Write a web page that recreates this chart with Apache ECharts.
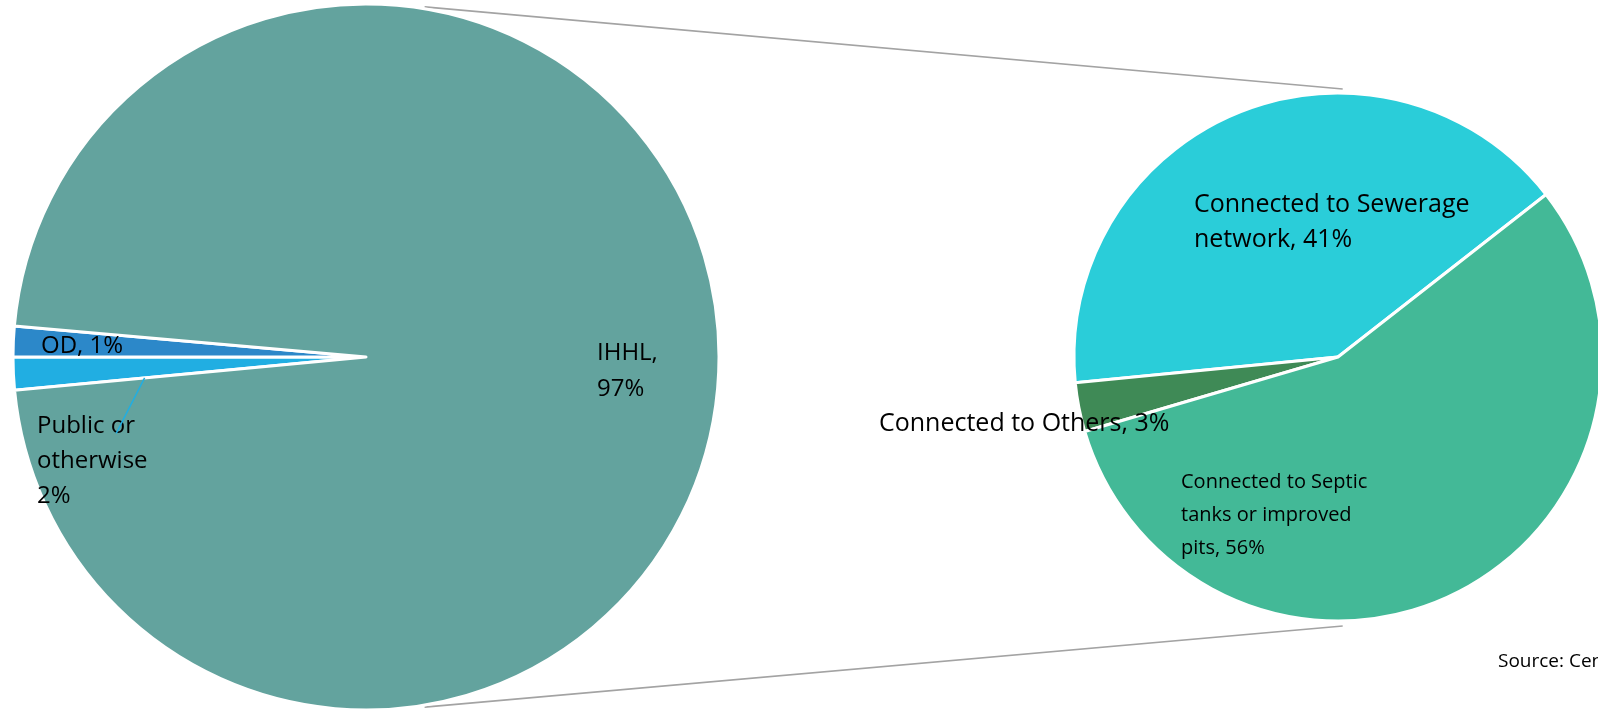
<!DOCTYPE html>
<html>
<head>
<meta charset="utf-8">
<title>Toilet access and sanitation connectivity</title>
<script src="https://cdn.jsdelivr.net/npm/echarts@6/dist/echarts.min.js"></script>
<style>
  html, body { margin: 0; padding: 0; background: #ffffff; overflow: hidden; }
  #chart { width: 1598px; height: 709px; }
</style>
</head>
<body>
<div id="chart"></div>
<script>
// Household toilet access (primary pie)
const accessCategories = ['Public or otherwise', 'OD', 'IHHL'];
const accessLabels = ['Public or\notherwise\n', 'OD, ', 'IHHL,\n'];
const accessValues = [1.5, 1.4, 97.1];

// Where IHHL toilets discharge (secondary pie)
const connectCategories = ['Connected to Sewerage network', 'Connected to Others', 'Connected to Septic tanks or improved pits'];
const connectLabels = ['Connected to Sewerage\nnetwork, ', 'Connected to Others, ', 'Connected to Septic\ntanks or improved\npits, '];
const connectValues = [41, 3, 56];

const sourceText = 'Source: Census 2011';

const FONT = '"Open Sans", Lato, sans-serif';

const accessColors = ['#21AEE2', '#2C88C9', '#63A39E'];
const connectColors = ['#2ACDD9', '#3F8A56', '#43B997'];

// Label anchor points (left edge, vertical middle of the text block)
const accessLabelPos = [
  { x: 37, y: 461, size: 24, lh: 35 },
  { x: 41, y: 346, size: 24, lh: 35 },
  { x: 597, y: 371, size: 24, lh: 36 }
];
const connectLabelPos = [
  { x: 1194, y: 222, size: 25, lh: 35 },
  { x: 879, y: 424, size: 25, lh: 35 },
  { x: 1181, y: 515, size: 20, lh: 33 }
];

const total = arr => arr.reduce((a, b) => a + b, 0);

function buildData(cats, labels, vals, colors, pos) {
  return cats.map((name, i) => ({
    name: name,
    value: vals[i],
    itemStyle: { color: colors[i] },
    label: {
      formatter: labels[i] + Math.round(vals[i]) + '%',
      fontSize: pos[i].size,
      lineHeight: pos[i].lh
    }
  }));
}

const chart = echarts.init(document.getElementById('chart'), null, { renderer: 'canvas' });

// Public slice ends just below the 9 o'clock direction; OD sits just above it
const accessStart = 180 + accessValues[0] / total(accessValues) * 360;

const option = {
  animation: false,
  backgroundColor: '#ffffff',
  series: [
    {
      type: 'pie',
      center: [366, 357],
      radius: 353,
      startAngle: accessStart,
      clockwise: true,
      silent: true,
      itemStyle: { borderColor: '#ffffff', borderWidth: 3 },
      label: {
        show: true,
        position: 'inside',
        color: '#000000',
        fontFamily: FONT,
        align: 'left'
      },
      labelLine: { show: false },
      labelLayout: p => ({ x: accessLabelPos[p.dataIndex].x, y: accessLabelPos[p.dataIndex].y, align: 'left', verticalAlign: 'middle' }),
      data: buildData(accessCategories, accessLabels, accessValues, accessColors, accessLabelPos)
    },
    {
      type: 'pie',
      center: [1338, 357],
      radius: 264,
      startAngle: 38,
      clockwise: false,
      silent: true,
      itemStyle: { borderColor: '#ffffff', borderWidth: 3 },
      label: {
        show: true,
        position: 'inside',
        color: '#000000',
        fontFamily: FONT,
        align: 'left'
      },
      labelLine: { show: false },
      labelLayout: p => ({ x: connectLabelPos[p.dataIndex].x, y: connectLabelPos[p.dataIndex].y, align: 'left', verticalAlign: 'middle' }),
      data: buildData(connectCategories, connectLabels, connectValues, connectColors, connectLabelPos)
    }
  ]
};

chart.setOption(option);

// Connector lines and the leader line are derived from the laid-out sectors
function polar(layout, rFrac, deg, extra) {
  const r = layout.r * rFrac + (extra || 0);
  const a = deg * Math.PI / 180;
  return [layout.cx + r * Math.cos(a), layout.cy - r * Math.sin(a)];
}

const model = chart.getModel();
const bigData = model.getSeriesByIndex(0).getData();
const smallData = model.getSeriesByIndex(1).getData();
const big = bigData.getItemLayout(0);
const small = smallData.getItemLayout(0);

const topA = polar(big, 1, 80.5, 2), topB = polar(small, 1, 89, 4);
const botA = polar(big, 1, -80.5, 2), botB = polar(small, 1, -89, 5);

// leader line for the Public slice starts on its lower edge
const pubLayout = bigData.getItemLayout(0);
const pubEdgeDeg = -pubLayout.startAngle * 180 / Math.PI;
const leadA = polar(big, 0.63, pubEdgeDeg);
const leadB = polar(big, 0.74, 197);

const lineStyle = { stroke: '#A3A3A3', lineWidth: 1.6 };

chart.setOption({
  graphic: [
    { type: 'line', silent: true, z: 1, shape: { x1: topA[0], y1: topA[1], x2: topB[0], y2: topB[1] }, style: lineStyle },
    { type: 'line', silent: true, z: 1, shape: { x1: botA[0], y1: botA[1], x2: botB[0], y2: botB[1] }, style: lineStyle },
    { type: 'line', silent: true, z: 100, shape: { x1: leadA[0], y1: leadA[1], x2: leadB[0], y2: leadB[1] }, style: { stroke: accessColors[0], lineWidth: 1.5 } },
    {
      type: 'text', silent: true, z: 100, left: 1498, top: 652,
      style: { text: sourceText, font: '19px ' + FONT, fill: '#000000' }
    }
  ]
});
</script>
</body>
</html>
